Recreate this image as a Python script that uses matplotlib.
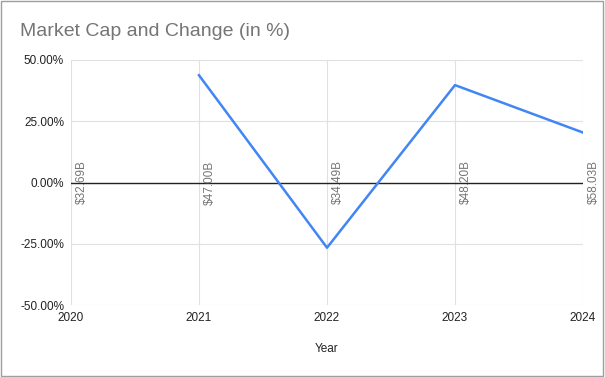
import numpy as np
import matplotlib.pyplot as plt

plt.rcParams['font.family'] = ['Liberation Sans', 'DejaVu Sans']

years = [2020, 2021, 2022, 2023, 2024]
market_cap = [32.69, 47.00, 34.49, 48.20, 58.03]
change_pct = [np.nan, 43.77, -26.62, 39.75, 20.39]
cap_labels = ["$32.69B", "$47.00B", "$34.49B", "$48.20B", "$58.03B"]

fig = plt.figure(figsize=(6.05, 3.77), dpi=100)
ax = fig.add_axes([71 / 605, 1 - 305 / 377, (583 - 71) / 605, 245 / 377])

ax.plot(years, change_pct, color="#4285F4", lw=1.8, zorder=3)
ax.axhline(0, color="#222222", lw=1, zorder=2)

for x, lab in zip(years, cap_labels):
    ax.text(x + 0.04, 0, lab, rotation=90, ha="left", va="center",
            fontsize=8.5, color="#757575", zorder=4)

ax.set_xlim(2020, 2024)
ax.set_ylim(-50, 50)
ax.set_xticks(years)
ax.set_yticks([-50, -25, 0, 25, 50])
ax.set_yticklabels(["%.2f%%" % v for v in [-50, -25, 0, 25, 50]])
ax.grid(True, color="#e0e0e0", lw=0.8)
ax.set_axisbelow(True)
for s in ax.spines.values():
    s.set_visible(False)
ax.tick_params(length=0, labelsize=8.5, colors="#222222", pad=5)
ax.set_xlabel("Year", fontsize=8.5, color="#222222", labelpad=14)

fig.text(20 / 605, 1 - 32 / 377, "Market Cap and Change (in %)", fontsize=14,
         color="#757575", va="center", ha="left")

border = plt.Rectangle((0.002, 0.003), 0.995, 0.994, transform=fig.transFigure,
                       fill=False, edgecolor="#9e9e9e", lw=1)
fig.patches.append(border)

fig.savefig("out.png", dpi=100)
